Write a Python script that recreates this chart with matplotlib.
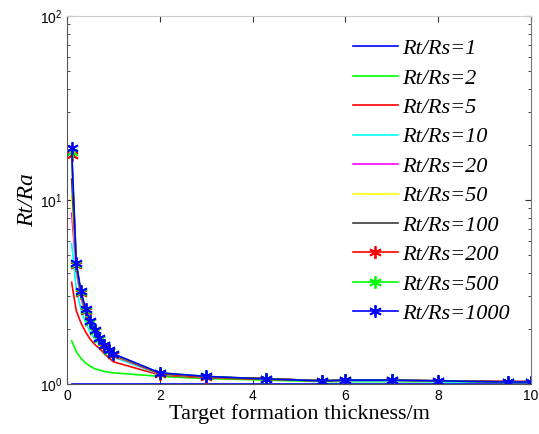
import matplotlib
matplotlib.use("Agg")
import matplotlib.pyplot as plt
import numpy as np

# thickness samples (m)
thickness = [0.1, 0.2, 0.3, 0.4, 0.5, 0.6, 0.7, 0.8, 0.9, 1.0,
             2, 3, 4.3, 5.5, 6, 7, 8, 9.5, 10]

# Rt/Ra for each Rt/Rs ratio
ra_1 = [1.0] * 19
ra_2 = [1.72, 1.50, 1.38, 1.30, 1.25, 1.21, 1.19, 1.17, 1.16, 1.15,
        1.10, 1.07, 1.05, 1.03, 1.03, 1.03, 1.03, 1.02, 1.02]
ra_5 = [3.57, 2.50, 2.15, 1.92, 1.75, 1.64, 1.56, 1.47, 1.39, 1.32,
        1.12, 1.08, 1.06, 1.04, 1.04, 1.04, 1.04, 1.03, 1.03]
ra_10 = [5.8, 3.3, 2.55, 2.15, 1.92, 1.76, 1.65, 1.55, 1.47, 1.40,
         1.13, 1.09, 1.07, 1.04, 1.04, 1.04, 1.03, 1.03, 1.03]
ra_20 = [8.5, 4.1, 2.95, 2.38, 2.06, 1.85, 1.69, 1.57, 1.48, 1.42,
         1.14, 1.09, 1.07, 1.04, 1.05, 1.05, 1.04, 1.03, 1.03]
ra_50 = [10.5, 4.25, 3.03, 2.43, 2.10, 1.88, 1.71, 1.59, 1.50, 1.43,
         1.14, 1.09, 1.07, 1.04, 1.05, 1.05, 1.04, 1.03, 1.03]
ra_100 = [13.0, 4.35, 3.08, 2.47, 2.13, 1.91, 1.73, 1.60, 1.51, 1.44,
          1.14, 1.09, 1.07, 1.04, 1.05, 1.05, 1.04, 1.03, 1.03]
ra_200 = [17.6, 4.45, 3.13, 2.50, 2.16, 1.93, 1.75, 1.61, 1.51, 1.44,
          1.14, 1.09, 1.07, 1.04, 1.05, 1.05, 1.04, 1.03, 1.03]
ra_500 = [18.3, 4.50, 3.17, 2.53, 2.18, 1.95, 1.76, 1.62, 1.52, 1.45,
          1.15, 1.10, 1.065, 1.04, 1.05, 1.05, 1.04, 1.025, 1.025]
ra_1000 = [19.2, 4.56, 3.21, 2.56, 2.20, 1.97, 1.78, 1.63, 1.53, 1.46,
           1.15, 1.10, 1.065, 1.04, 1.05, 1.05, 1.04, 1.025, 1.025]

labels = ['1', '2', '5', '10', '20', '50', '100', '200', '500', '1000']
series = [ra_1, ra_2, ra_5, ra_10, ra_20, ra_50, ra_100, ra_200, ra_500, ra_1000]
colors = ['#0000ff', '#00ff00', '#ff0000', '#00ffff', '#ff00ff',
          '#ffff00', '#3c3c3c', '#ff0000', '#00ff00', '#0000ff']
asterisk = (6, 2, 0)
markers = [None] * 7 + [asterisk] * 3

plt.rcParams['mathtext.fontset'] = 'custom'
plt.rcParams['mathtext.rm'] = 'Liberation Sans'
plt.rcParams['font.family'] = 'Liberation Sans'

fig = plt.figure(figsize=(5.39, 4.34), dpi=100)
ax = fig.add_axes([0.1243, 0.1152, 0.8607, 0.8478])

for lab, ys, c, m in zip(labels, series, colors, markers):
    ax.plot(thickness, ys, color=c, linewidth=1.2, marker=m, markersize=9,
            markeredgewidth=1.3, label=f'Rt/Rs={lab}')

ax.set_yscale('log')
ax.set_xlim(0, 10)
ax.set_ylim(1, 100)
ax.set_xticks([0, 2, 4, 6, 8, 10])
ax.tick_params(which='both', direction='in', top=True, right=True,
               labelsize=10, color='#333333')
ax.tick_params(which='major', length=4)
ax.tick_params(which='minor', length=2.5)
for side in ['left', 'bottom']:
    ax.spines[side].set_color('#555555')
ax.spines['right'].set_color('#777777')
ax.spines['top'].set_color('#cccccc')

ax.set_xlabel('Target formation thickness/m', family='Liberation Serif',
              fontsize=16, labelpad=1)
ax.set_ylabel('Rt/Ra', family='Liberation Serif', style='italic',
              fontsize=17, labelpad=1)

leg = ax.legend(loc='upper right', frameon=False, handlelength=2.0,
                labelspacing=0.4, handletextpad=0.2, borderaxespad=0.2,
                prop={'family': 'Liberation Serif', 'style': 'italic', 'size': 16},
                bbox_to_anchor=(0.983, 0.975))

fig.savefig('out.png', dpi=100)
